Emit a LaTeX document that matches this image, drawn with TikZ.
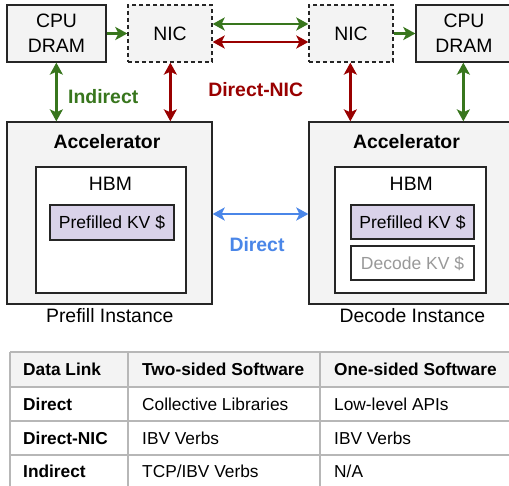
\documentclass[tikz,border=0pt]{standalone}
\usepackage{fontspec}
\setmainfont{Liberation Sans}
\usetikzlibrary{arrows.meta}
\definecolor{boxgray}{HTML}{F3F3F3}
\definecolor{kvpurple}{HTML}{D9D2E9}
\definecolor{ggreen}{HTML}{38761D}
\definecolor{gred}{HTML}{990000}
\definecolor{gblue}{HTML}{4A86E8}
\definecolor{tline}{HTML}{B7B7B7}
\definecolor{dimtext}{HTML}{999999}
\tikzset{
  box/.style={draw=black!85, line width=1.3pt, fill=boxgray, inner sep=0pt, align=center,
    font=\fontsize{19.4}{25}\selectfont},
  nicbox/.style={box, dash pattern=on 4pt off 3pt},
  membox/.style={draw=black!85, line width=1.3pt, fill=white, inner sep=0pt},
  kvbox/.style={draw=black!85, line width=1.3pt, inner sep=0pt, text height=12.5pt, text depth=0pt,
    font=\fontsize{17.5}{20}\selectfont},
  lbl/.style={inner sep=0pt, anchor=base, font=\fontsize{19.4}{22}\selectfont},
  blbl/.style={lbl, font=\fontsize{19.4}{22}\selectfont\bfseries},
  tcell/.style={inner sep=0pt, anchor=base west, font=\fontsize{17.3}{20}\selectfont},
  thead/.style={tcell, font=\fontsize{17.3}{20}\selectfont\bfseries},
  tip/.style={-{Stealth[length=12pt,width=13pt,inset=3pt]}},
  dtip/.style={{Stealth[length=12pt,width=13pt,inset=3pt]}-{Stealth[length=12pt,width=13pt,inset=3pt]}},
  garr/.style={draw=ggreen, line width=2.6pt, color=ggreen},
  rarr/.style={draw=gred, line width=2.6pt, color=gred},
  barr/.style={draw=gblue, line width=2.6pt, color=gblue},
}
\begin{document}
\begin{tikzpicture}[x=1pt,y=-1pt]
\useasboundingbox (0,0) rectangle (509,486);
\fill[white] (0,0) rectangle (509,486);

% top row
\node[box, minimum width=99pt, minimum height=57pt] (cpuL) at (56.5,33.5) {CPU\\DRAM};
\node[nicbox, minimum width=84pt, minimum height=57pt] (nicL) at (170,33.5) {NIC};
\node[nicbox, minimum width=84pt, minimum height=57pt] (nicR) at (351,33.5) {NIC};
\node[box, minimum width=96pt, minimum height=57pt] (cpuR) at (464,33.5) {CPU\\DRAM};

% accelerators
\node[box, minimum width=205pt, minimum height=182pt] (accL) at (109.5,213) {};
\node[box, minimum width=205pt, minimum height=182pt] (accR) at (411.5,213) {};
\node[blbl] (accLt) at (107,149) {Accelerator};
\node[blbl] (accRt) at (406.5,149) {Accelerator};

\node[membox, minimum width=150pt, minimum height=126pt] (hbmL) at (111,230) {};
\node[membox, minimum width=151pt, minimum height=126pt] (hbmR) at (410.5,230) {};
\node[lbl] (hbmLt) at (110.5,191) {HBM};
\node[lbl] (hbmRt) at (411.3,191) {HBM};

\node[kvbox, fill=kvpurple, minimum width=124pt, minimum height=35pt] (kvL) at (112,222.5) {Prefilled KV \$};
\node[kvbox, fill=kvpurple, minimum width=123pt, minimum height=34pt] (kvR) at (412.5,222) {Prefilled KV \$};
\node[kvbox, fill=white, text=dimtext, minimum width=123pt, minimum height=34pt] (dkv) at (412.5,263) {Decode KV \$};

\node[lbl] (preI) at (109.7,323) {Prefill Instance};
\node[lbl] (decI) at (412.3,323) {Decode Instance};

% connectors
\draw[garr, tip] (cpuL.east) -- (nicL.west);
\draw[garr, tip] (nicR.east) -- (cpuR.west);
\draw[garr, dtip] ([yshift=9.5pt]nicL.east) -- ([yshift=9.5pt]nicR.west);
\draw[rarr, dtip] ([yshift=-8.5pt]nicL.east) -- ([yshift=-8.5pt]nicR.west);
\draw[garr, dtip] ([xshift=50pt]cpuL.south west) -- ([xshift=50pt]accL.north west);
\draw[rarr, dtip] ([xshift=43pt]nicL.south west) -- ([xshift=164pt]accL.north west);
\draw[rarr, dtip] ([xshift=42pt]nicR.south west) -- ([xshift=42pt]accR.north west);
\draw[garr, dtip] ([xshift=48pt]cpuR.south west) -- ([xshift=155pt]accR.north west);
\draw[barr, dtip] ([yshift=-1pt]accL.east) -- ([yshift=-1pt]accR.west);

\node[blbl, anchor=base west, text=ggreen] (indl) at (68,104) {Indirect};
\node[blbl, text=gred] (dnicl) at (255.7,97) {Direct-NIC};
\node[blbl, text=gblue] (dirl) at (257,252) {Direct};

% table
\fill[boxgray] (10,352) rectangle (515,387);
\draw[tline, line width=1.5pt] (10,352) -- (515,352)
  (10,387) -- (515,387) (10,421) -- (515,421) (10,455) -- (515,455)
  (10,352) -- (10,490) (128,352) -- (128,490) (320,352) -- (320,490);
\node[thead] (h1) at (23,376) {Data Link};
\node[thead] (h2) at (142,376) {Two-sided Software};
\node[thead] (h3) at (334,376) {One-sided Software};
\node[thead] (r1a) at (23,410) {Direct};
\node[tcell] (r1b) at (142,410) {Collective Libraries};
\node[tcell] (r1c) at (334,410) {Low-level APIs};
\node[thead] (r2a) at (23,444) {Direct-NIC};
\node[tcell] (r2b) at (142,444) {IBV Verbs};
\node[tcell] (r2c) at (334,444) {IBV Verbs};
\node[thead] (r3a) at (23,477) {Indirect};
\node[tcell] (r3b) at (142,477) {TCP/IBV Verbs};
\node[tcell] (r3c) at (334,477) {N/A};
\end{tikzpicture}
\end{document}
